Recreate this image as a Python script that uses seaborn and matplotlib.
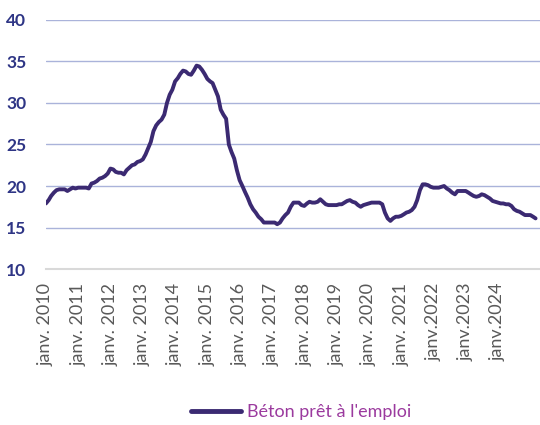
import pandas as pd
import seaborn as sns
import matplotlib.pyplot as plt

# Monthly index values, Jan 2010 -> Mar 2025
v2010 = [17.9, 18.3, 18.8, 19.2, 19.5, 19.6, 19.6, 19.6, 19.4, 19.6, 19.8, 19.7]
v2011 = [19.8, 19.8, 19.8, 19.8, 19.7, 20.3, 20.4, 20.6, 20.9, 21.0, 21.2, 21.5]
v2012 = [22.1, 22.0, 21.7, 21.6, 21.6, 21.4, 21.9, 22.2, 22.5, 22.6, 22.9, 23.0]
v2013 = [23.2, 23.8, 24.5, 25.3, 26.6, 27.3, 27.7, 28.0, 28.6, 30.0, 31.0, 31.6]
v2014 = [32.6, 33.0, 33.5, 33.9, 33.8, 33.5, 33.4, 33.9, 34.5, 34.4, 34.0, 33.5]
v2015 = [32.9, 32.6, 32.4, 31.6, 30.8, 29.2, 28.6, 28.1, 25.0, 24.1, 23.3, 21.9]
v2016 = [20.7, 20.0, 19.3, 18.6, 17.8, 17.2, 16.8, 16.3, 16.0, 15.6, 15.6, 15.6]
v2017 = [15.6, 15.6, 15.4, 15.6, 16.1, 16.5, 16.8, 17.5, 18.0, 18.0, 18.0, 17.7]
v2018 = [17.6, 17.9, 18.1, 18.0, 18.0, 18.1, 18.4, 18.1, 17.8, 17.7, 17.7, 17.7]
v2019 = [17.7, 17.8, 17.8, 18.0, 18.2, 18.3, 18.1, 18.0, 17.7, 17.5, 17.7, 17.8]
v2020 = [17.9, 18.0, 18.0, 18.0, 18.0, 17.8, 16.8, 16.1, 15.8, 16.1, 16.3, 16.3]
v2021 = [16.4, 16.6, 16.8, 16.9, 17.1, 17.5, 18.3, 19.5, 20.2, 20.2, 20.1, 19.9]
v2022 = [19.8, 19.8, 19.8, 19.9, 20.0, 19.7, 19.5, 19.2, 19.0, 19.4, 19.4, 19.4]
v2023 = [19.4, 19.2, 19.0, 18.8, 18.7, 18.8, 19.0, 18.9, 18.7, 18.5, 18.2, 18.1]
v2024 = [18.0, 17.9, 17.9, 17.8, 17.8, 17.6, 17.2, 17.0, 16.9, 16.7, 16.5, 16.5]
v2025 = [16.5, 16.3, 16.1]

serie = "Béton prêt à l'emploi"
years = list(range(2010, 2025))
tick_labels = ["janv. %d" % y for y in range(2010, 2022)] + ["janv.2022", "janv.2023", "janv.2024"]

values = (v2010 + v2011 + v2012 + v2013 + v2014 + v2015 + v2016 + v2017
          + v2018 + v2019 + v2020 + v2021 + v2022 + v2023 + v2024 + v2025)
df = pd.DataFrame({
    "date": pd.date_range("2010-01-01", periods=len(values), freq="MS"),
    "valeur": values,
})
df["serie"] = serie

sns.set_style("white")
plt.rcParams["font.family"] = ["Lato", "DejaVu Sans"]

fig = plt.figure(figsize=(5.4, 4.25), dpi=100)
ax = fig.add_axes([0.085, 0.367, 0.915, 0.586])

sns.lineplot(data=df, x="date", y="valeur", hue="serie", palette=["#3b2a72"],
             linewidth=2.8, ax=ax, legend=True)

ax.set_ylim(10, 40)
ax.set_yticks([10, 15, 20, 25, 30, 35, 40])
ax.set_xlim(pd.Timestamp("2010-01-01"), pd.Timestamp("2025-04-20"))
ax.set_xticks([pd.Timestamp("%d-01-01" % y) for y in years])
ax.set_xticklabels(tick_labels, rotation=90, fontsize=13, color="#595959")
ax.tick_params(axis="y", labelsize=12.5, colors="#2e3585", length=0, pad=14)
ax.tick_params(axis="x", length=0, pad=10)
for lab in ax.get_yticklabels():
    lab.set_fontweight("bold")

ax.grid(axis="y", color="#aab3da", linewidth=1)
ax.set_axisbelow(True)
for s in ["top", "right", "left"]:
    ax.spines[s].set_visible(False)
ax.spines["bottom"].set_color("#d9d9d9")
ax.spines["bottom"].set_linewidth(1.5)
ax.set_xlabel("")
ax.set_ylabel("")

leg = ax.legend(loc="center", bbox_to_anchor=(0.516, -0.575), frameon=False,
                fontsize=13, handlelength=2.8, handletextpad=0.3)
for t in leg.get_texts():
    t.set_color("#9b3a9e")
for h in leg.get_lines():
    h.set_linewidth(3.5)

fig.savefig("out.png", dpi=100)
